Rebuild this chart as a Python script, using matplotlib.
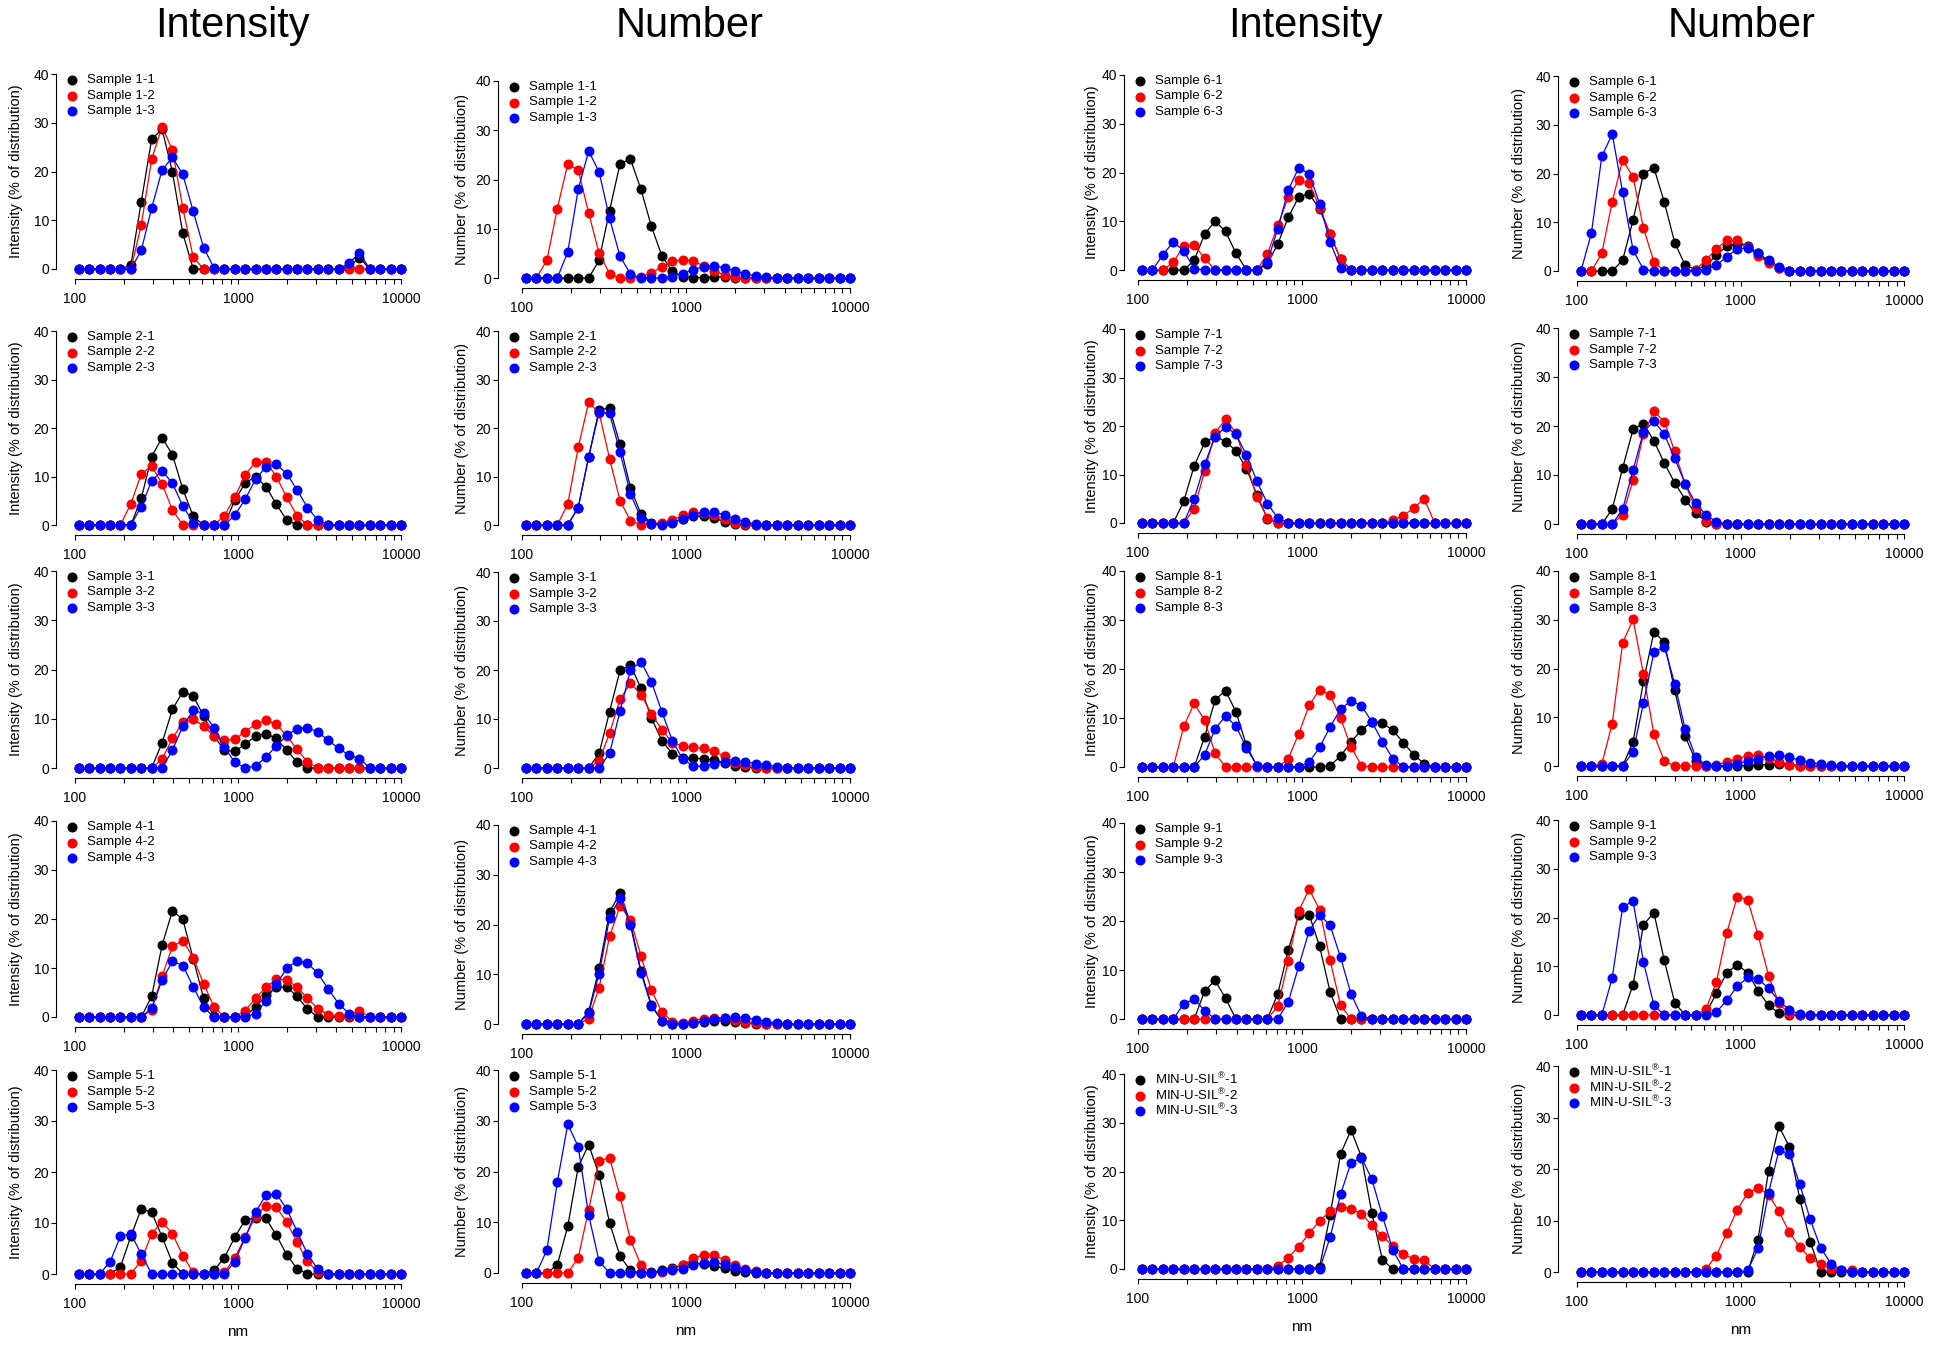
import matplotlib
matplotlib.use("Agg")
import matplotlib.pyplot as plt
from matplotlib.lines import Line2D

plt.rcParams['font.family'] = ['Liberation Sans', 'DejaVu Sans']
plt.rcParams['mathtext.fontset'] = 'custom'
plt.rcParams['mathtext.rm'] = 'Liberation Sans'
plt.rcParams['mathtext.it'] = 'Liberation Sans:italic'

W, H = 1950, 1345

# size classes (nm) of the DLS distribution, 100 - 10000 nm range
size_nm = [105.7, 122.4, 141.8, 164.2, 190.1, 220.2, 255.0, 295.3,
           342.0, 396.1, 458.7, 531.2, 615.1, 712.4, 825.0, 955.4,
           1106, 1281, 1484, 1718, 1990, 2305, 2669, 3091,
           3580, 4145, 4801, 5560, 6439, 7456, 8635, 10000]

# each panel: three replicates (-1 black, -2 red, -3 blue), % of distribution per size class
int_1 = [
    [0, 0, 0, 0, 0, 0.8, 13.8, 26.6, 28.7, 19.9, 7.3, 0, 0, 0, 0, 0, 0, 0, 0, 0, 0, 0, 0, 0, 0, 0, 0.5, 2.3, 0, 0, 0, 0],
    [0, 0, 0, 0, 0, 0, 9.0, 22.5, 29.2, 24.4, 12.5, 2.4, 0, 0, 0, 0, 0, 0, 0, 0, 0, 0, 0, 0, 0, 0, 0, 0, 0, 0, 0, 0],
    [0, 0, 0, 0, 0, 0, 3.8, 12.5, 20.3, 22.9, 19.4, 11.8, 4.4, 0.2, 0, 0, 0, 0, 0, 0, 0, 0, 0, 0, 0, 0, 1.2, 3.3, 0, 0, 0, 0],
]
num_1 = [
    [0, 0, 0, 0, 0, 0, 0, 3.6, 13.7, 23.2, 24.1, 18.0, 10.5, 4.5, 1.4, 0.3, 0.1, 0.1, 0.2, 0.3, 0, 0, 0, 0, 0, 0, 0, 0, 0, 0, 0, 0],
    [0, 0, 3.6, 14.1, 23.2, 21.9, 13.2, 5.0, 0.9, 0, 0, 0.3, 1.0, 2.3, 3.4, 3.7, 3.5, 2.4, 1.5, 0.6, 0.2, 0, 0, 0, 0, 0, 0, 0, 0, 0, 0, 0],
    [0, 0, 0, 0, 5.3, 18.0, 25.8, 21.5, 12.1, 4.4, 0.8, 0, 0, 0, 0.3, 0.9, 1.7, 2.3, 2.5, 2.1, 1.4, 0.8, 0.4, 0.2, 0, 0, 0, 0, 0, 0, 0, 0],
]
int_2 = [
    [0, 0, 0, 0, 0, 0, 5.5, 14.1, 18.0, 14.5, 7.4, 1.8, 0, 0, 0, 5.1, 8.6, 10.0, 7.9, 4.3, 1.0, 0, 0, 0, 0, 0, 0, 0, 0, 0, 0, 0],
    [0, 0, 0, 0, 0, 4.4, 10.5, 12.2, 8.5, 3.1, 0, 0, 0, 0, 1.9, 5.7, 10.3, 13.0, 13.0, 10.0, 5.7, 1.9, 0, 0, 0, 0, 0, 0, 0, 0, 0, 0],
    [0, 0, 0, 0, 0, 0, 3.8, 9.1, 11.2, 8.6, 3.9, 0.5, 0, 0, 0, 2.0, 5.3, 9.4, 12.0, 12.5, 10.6, 7.2, 3.6, 1.0, 0, 0, 0, 0, 0, 0, 0, 0],
]
num_2 = [
    [0, 0, 0, 0, 0, 3.6, 14.1, 23.8, 24.1, 16.6, 7.7, 2.3, 0.4, 0.2, 0.6, 1.2, 1.8, 1.9, 1.4, 0.7, 0.2, 0, 0, 0, 0, 0, 0, 0, 0, 0, 0, 0],
    [0, 0, 0, 0, 4.3, 16.0, 25.3, 23.1, 13.7, 5.0, 0.9, 0, 0.3, 0.5, 1.0, 2.0, 2.7, 2.4, 2.0, 1.2, 0.5, 0.2, 0, 0, 0, 0, 0, 0, 0, 0, 0, 0],
    [0, 0, 0, 0, 0, 3.6, 14.0, 23.3, 23.0, 15.0, 6.4, 1.5, 0.3, 0.1, 0.5, 1.2, 2.1, 2.6, 2.7, 2.1, 1.3, 0.6, 0.2, 0, 0, 0, 0, 0, 0, 0, 0, 0],
]
int_3 = [
    [0, 0, 0, 0, 0, 0, 0, 0, 5.1, 11.9, 15.5, 14.6, 10.6, 6.5, 3.6, 3.4, 4.8, 6.5, 7.0, 6.0, 3.6, 1.2, 0, 0, 0, 0, 0, 0, 0, 0, 0, 0],
    [0, 0, 0, 0, 0, 0, 0, 0, 1.8, 6.0, 9.3, 9.9, 8.5, 6.5, 5.6, 5.8, 7.4, 8.9, 9.7, 8.9, 6.5, 3.8, 1.2, 0, 0, 0, 0, 0, 0, 0, 0, 0],
    [0, 0, 0, 0, 0, 0, 0, 0, 0, 3.6, 8.5, 11.7, 11.1, 8.2, 4.2, 1.2, 0, 0.4, 2.2, 4.5, 6.6, 8.0, 8.2, 7.3, 5.6, 4.0, 2.6, 1.9, 0, 0, 0, 0],
]
num_3 = [
    [0, 0, 0, 0, 0, 0, 0, 3.0, 11.5, 19.9, 21.0, 16.3, 10.2, 5.6, 2.9, 2.0, 2.0, 1.9, 1.6, 1.1, 0.5, 0.2, 0, 0, 0, 0, 0, 0, 0, 0, 0, 0],
    [0, 0, 0, 0, 0, 0, 0, 1.5, 7.1, 14.0, 17.3, 15.0, 11.1, 7.8, 5.2, 4.5, 4.2, 4.0, 3.4, 2.4, 1.1, 0.6, 0.3, 0.1, 0, 0, 0, 0, 0, 0, 0, 0],
    [0, 0, 0, 0, 0, 0, 0, 0, 3.0, 11.6, 20.0, 21.7, 17.6, 11.5, 5.6, 1.8, 0.4, 0.4, 0.9, 1.3, 1.4, 1.2, 0.9, 0.6, 0.3, 0.1, 0, 0, 0, 0, 0, 0],
]
int_4 = [
    [0, 0, 0, 0, 0, 0, 0, 4.2, 14.6, 21.7, 19.9, 11.9, 3.8, 0.2, 0, 0, 0.2, 2.0, 4.4, 6.1, 6.1, 4.2, 1.6, 0, 0, 0, 0, 0, 0, 0, 0, 0],
    [0, 0, 0, 0, 0, 0, 0, 1.5, 8.3, 14.4, 15.6, 12.1, 6.8, 2.1, 0, 0, 1.3, 3.8, 6.1, 7.7, 7.6, 6.1, 3.8, 1.7, 0.5, 0.3, 0.3, 1.2, 0, 0, 0, 0],
    [0, 0, 0, 0, 0, 0, 0, 1.8, 7.5, 11.4, 10.5, 6.2, 2.0, 0, 0, 0, 0, 0.7, 3.3, 6.7, 9.9, 11.5, 11.0, 8.9, 5.7, 2.7, 0.7, 0, 0, 0, 0, 0],
]
num_4 = [
    [0, 0, 0, 0, 0, 0, 2.5, 11.2, 22.5, 26.3, 20.3, 10.7, 3.8, 0.7, 0.1, 0.1, 0.3, 0.5, 0.7, 0.7, 0.5, 0.3, 0.1, 0, 0, 0, 0, 0, 0, 0, 0, 0],
    [0, 0, 0, 0, 0, 0, 1.1, 7.3, 17.6, 23.7, 21.0, 13.7, 6.8, 2.4, 0.5, 0.3, 0.7, 1.1, 1.3, 1.2, 0.9, 0.5, 0.2, 0, 0, 0, 0, 0, 0, 0, 0, 0],
    [0, 0, 0, 0, 0, 0, 2.2, 10.1, 21.4, 25.4, 19.8, 10.3, 3.6, 0.7, 0, 0, 0.2, 0.6, 1.0, 1.3, 1.4, 1.2, 0.9, 0.5, 0.2, 0, 0, 0, 0, 0, 0, 0],
]
int_5 = [
    [0, 0, 0, 0, 1.4, 7.4, 12.8, 12.1, 7.3, 2.2, 0, 0, 0, 0.7, 3.2, 7.2, 10.6, 11.0, 10.9, 7.6, 3.8, 1.0, 0, 0, 0, 0, 0, 0, 0, 0, 0, 0],
    [0, 0, 0, 0, 0, 0, 2.6, 7.9, 10.2, 7.9, 3.6, 0.3, 0, 0, 0.3, 3.2, 7.2, 11.3, 13.4, 13.1, 10.2, 6.2, 2.5, 0.3, 0, 0, 0, 0, 0, 0, 0, 0],
    [0, 0, 0, 2.4, 7.4, 7.9, 3.9, 0, 0, 0, 0, 0, 0, 0, 0, 2.4, 7.1, 12.1, 15.5, 15.7, 12.8, 8.3, 3.9, 0.9, 0, 0, 0, 0, 0, 0, 0, 0],
]
num_5 = [
    [0, 0, 0, 1.6, 9.2, 20.9, 25.3, 19.3, 9.9, 3.3, 0.5, 0, 0.1, 0.5, 1.0, 1.6, 1.9, 1.8, 1.4, 0.9, 0.4, 0.1, 0, 0, 0, 0, 0, 0, 0, 0, 0, 0],
    [0, 0, 0, 0, 0, 3.0, 12.5, 22.1, 22.7, 15.1, 6.5, 1.6, 0, 0.2, 0.8, 1.5, 2.9, 3.6, 3.5, 2.6, 1.5, 0.8, 0.3, 0, 0, 0, 0, 0, 0, 0, 0, 0],
    [0, 0, 4.5, 17.9, 29.3, 24.9, 11.4, 2.3, 0, 0, 0, 0, 0, 0.3, 0.5, 0.8, 1.5, 2.0, 2.1, 1.7, 1.2, 0.6, 0.2, 0, 0, 0, 0, 0, 0, 0, 0, 0],
]
int_6 = [
    [0, 0, 0, 0, 0, 2.0, 7.4, 10.0, 7.9, 3.4, 0, 0, 1.2, 5.4, 10.8, 15.0, 15.6, 12.5, 7.4, 2.2, 0, 0, 0, 0, 0, 0, 0, 0, 0, 0, 0, 0],
    [0, 0, 0, 1.6, 4.9, 5.1, 2.4, 0, 0, 0, 0, 0, 3.3, 9.2, 15.0, 18.4, 17.8, 12.8, 7.3, 2.3, 0, 0, 0, 0, 0, 0, 0, 0, 0, 0, 0, 0],
    [0, 0, 3.1, 5.8, 3.9, 0.3, 0, 0, 0, 0, 0, 0, 1.7, 8.5, 16.4, 21.0, 19.7, 13.6, 5.7, 0.5, 0, 0, 0, 0, 0, 0, 0, 0, 0, 0, 0, 0],
]
num_6 = [
    [0, 0, 0, 0, 2.2, 10.4, 20.0, 21.2, 14.1, 5.8, 1.2, 0.3, 1.0, 3.3, 5.1, 5.6, 5.2, 3.6, 1.8, 0.6, 0, 0, 0, 0, 0, 0, 0, 0, 0, 0, 0, 0],
    [0, 0, 3.6, 14.2, 22.8, 19.3, 8.8, 1.9, 0, 0, 0, 0.3, 2.2, 4.6, 6.3, 6.3, 5.0, 3.1, 1.7, 0.7, 0, 0, 0, 0, 0, 0, 0, 0, 0, 0, 0, 0],
    [0, 7.7, 23.5, 28.1, 16.2, 4.3, 0.3, 0, 0, 0, 0, 0, 0.3, 1.2, 2.9, 4.6, 4.7, 3.6, 2.2, 0.9, 0.1, 0, 0, 0, 0, 0, 0, 0, 0, 0, 0, 0],
]
int_7 = [
    [0, 0, 0, 0, 4.5, 11.8, 16.6, 17.9, 16.8, 14.9, 11.2, 5.8, 0.9, 0, 0, 0, 0, 0, 0, 0, 0, 0, 0, 0, 0, 0, 0, 0, 0, 0, 0, 0],
    [0, 0, 0, 0, 0, 2.9, 10.8, 18.6, 21.4, 18.6, 12.0, 5.3, 1.1, 0, 0, 0, 0, 0, 0, 0, 0, 0, 0, 0, 0.6, 1.5, 3.1, 5.0, 0, 0, 0, 0],
    [0, 0, 0, 0, 0, 5.0, 12.1, 17.8, 19.8, 18.3, 14.0, 8.6, 4.0, 1.0, 0, 0, 0, 0, 0, 0, 0, 0, 0, 0, 0, 0, 0, 0, 0, 0, 0, 0],
]
num_7 = [
    [0, 0, 0, 3.0, 11.4, 19.3, 20.5, 17.0, 12.4, 8.4, 5.0, 2.2, 0.5, 0, 0, 0, 0, 0, 0, 0, 0, 0, 0, 0, 0, 0, 0, 0, 0, 0, 0, 0],
    [0, 0, 0, 0, 1.9, 8.9, 18.3, 23.0, 20.9, 14.8, 8.1, 3.2, 0.6, 0, 0, 0, 0, 0, 0, 0, 0, 0, 0, 0, 0, 0, 0, 0, 0, 0, 0, 0],
    [0, 0, 0, 0, 3.0, 11.0, 18.8, 21.0, 18.3, 13.4, 8.2, 4.2, 1.8, 0.5, 0, 0, 0, 0, 0, 0, 0, 0, 0, 0, 0, 0, 0, 0, 0, 0, 0, 0],
]
int_8 = [
    [0, 0, 0, 0, 0, 0, 6.2, 13.7, 15.6, 11.2, 4.4, 0.2, 0, 0, 0, 0, 0, 0, 0.3, 2.2, 5.1, 7.6, 9.2, 9.0, 7.5, 5.0, 2.5, 0.7, 0, 0, 0, 0],
    [0, 0, 0, 0, 8.3, 13.0, 9.5, 2.8, 0, 0, 0, 0, 0, 0, 1.7, 6.8, 12.6, 15.8, 14.7, 10.0, 4.1, 0.3, 0, 0, 0, 0, 0, 0, 0, 0, 0, 0],
    [0, 0, 0, 0, 0, 0, 2.5, 7.8, 10.4, 8.3, 3.9, 0.3, 0, 0, 0, 0, 1.0, 4.0, 8.2, 11.8, 13.5, 12.5, 9.2, 5.2, 1.7, 0, 0, 0, 0, 0, 0, 0],
]
num_8 = [
    [0, 0, 0, 0, 0, 4.9, 17.4, 27.5, 25.4, 15.5, 6.1, 1.1, 0, 0, 0, 0, 0.1, 0.2, 0.3, 0.4, 0.3, 0.1, 0, 0, 0, 0, 0, 0, 0, 0, 0, 0],
    [0, 0, 0.4, 8.7, 25.2, 30.1, 18.8, 6.5, 1.0, 0, 0, 0, 0, 0.3, 0.8, 1.5, 2.1, 2.2, 1.6, 0.9, 0.3, 0, 0, 0, 0, 0, 0, 0, 0, 0, 0, 0],
    [0, 0, 0, 0, 0, 2.9, 12.9, 23.3, 24.5, 16.9, 7.6, 1.9, 0.2, 0, 0.1, 0.5, 1.0, 1.5, 2.0, 2.2, 1.8, 1.2, 0.7, 0.4, 0.2, 0, 0, 0, 0, 0, 0, 0],
]
int_9 = [
    [0, 0, 0, 0, 0, 0, 5.7, 7.9, 4.2, 0, 0, 0, 0, 5.2, 14.1, 21.3, 21.3, 14.8, 5.5, 0, 0, 0, 0, 0, 0, 0, 0, 0, 0, 0, 0, 0],
    [0, 0, 0, 0, 0, 0, 0, 0, 0, 0, 0, 0, 0, 2.6, 11.8, 22.1, 26.5, 22.3, 12.0, 2.8, 0, 0, 0, 0, 0, 0, 0, 0, 0, 0, 0, 0],
    [0, 0, 0, 0, 3.1, 4.1, 1.7, 0, 0, 0, 0, 0, 0, 0, 3.5, 10.8, 18.0, 21.3, 19.1, 12.6, 5.1, 0.6, 0, 0, 0, 0, 0, 0, 0, 0, 0, 0],
]
num_9 = [
    [0, 0, 0, 0, 0, 6.2, 18.5, 21.0, 11.2, 2.5, 0, 0, 0.3, 4.5, 8.7, 10.3, 8.7, 5.0, 2.0, 0.4, 0, 0, 0, 0, 0, 0, 0, 0, 0, 0, 0, 0],
    [0, 0, 0, 0, 0, 0, 0, 0, 0, 0, 0, 0, 1.2, 6.8, 16.9, 24.3, 23.6, 16.4, 8.1, 2.4, 0.2, 0, 0, 0, 0, 0, 0, 0, 0, 0, 0, 0],
    [0, 0, 0, 7.6, 22.1, 23.4, 10.9, 2.0, 0, 0, 0, 0, 0, 0.6, 3.0, 5.9, 7.7, 7.4, 5.5, 2.9, 1.0, 0.2, 0, 0, 0, 0, 0, 0, 0, 0, 0, 0],
]
int_min = [
    [0, 0, 0, 0, 0, 0, 0, 0, 0, 0, 0, 0, 0, 0, 0, 0, 0, 0.5, 11.0, 23.6, 28.5, 23.0, 11.4, 1.9, 0, 0, 0, 0, 0, 0, 0, 0],
    [0, 0, 0, 0, 0, 0, 0, 0, 0, 0, 0, 0, 0, 0.7, 2.3, 4.6, 7.3, 9.9, 11.8, 12.8, 12.4, 11.3, 9.0, 6.8, 4.7, 3.0, 2.1, 1.8, 0, 0, 0, 0],
    [0, 0, 0, 0, 0, 0, 0, 0, 0, 0, 0, 0, 0, 0, 0, 0, 0, 0, 6.5, 15.3, 21.8, 22.8, 18.4, 10.9, 3.9, 0, 0, 0, 0, 0, 0, 0],
]
num_min = [
    [0, 0, 0, 0, 0, 0, 0, 0, 0, 0, 0, 0, 0, 0, 0, 0, 0, 6.3, 19.7, 28.3, 24.3, 14.2, 5.9, 0, 0, 0, 0, 0, 0, 0, 0, 0],
    [0, 0, 0, 0, 0, 0, 0, 0, 0, 0, 0, 0, 0.6, 3.2, 7.6, 12.1, 15.3, 16.4, 15.0, 11.8, 7.7, 4.8, 2.7, 1.5, 0.6, 0.4, 0.3, 0, 0, 0, 0, 0],
    [0, 0, 0, 0, 0, 0, 0, 0, 0, 0, 0, 0, 0, 0, 0, 0, 0.3, 4.6, 15.4, 23.6, 23.0, 17.0, 10.2, 4.7, 1.6, 0.4, 0, 0, 0, 0, 0, 0],
]

colors = ["black", "red", "blue"]

# panel geometry in pixels: y-axis x, x of 100 nm, x of 10000 nm; per panel y of 40 % and of 0 %
col_x = [(56, 75, 401), (498, 522, 850), (1124, 1138, 1466), (1558, 1577, 1904)]
panels = [
    (int_1, 0, 74, 269, "1"), (num_1, 1, 81, 278, "1"), (int_6, 2, 75, 270, "6"), (num_6, 3, 76, 271, "6"),
    (int_2, 0, 331, 525, "2"), (num_2, 1, 331, 525, "2"), (int_7, 2, 329, 523, "7"), (num_7, 3, 328, 524, "7"),
    (int_3, 0, 571, 768, "3"), (num_3, 1, 572, 768, "3"), (int_8, 2, 571, 767, "8"), (num_8, 3, 571, 766, "8"),
    (int_4, 0, 821, 1017, "4"), (num_4, 1, 825, 1024, "4"), (int_9, 2, 823, 1019, "9"), (num_9, 3, 820, 1015, "9"),
    (int_5, 0, 1070, 1274, "5"), (num_5, 1, 1070, 1273, "5"), (int_min, 2, 1074, 1269, "MIN"), (num_min, 3, 1066, 1272, "MIN"),
]

fig = plt.figure(figsize=(W / 100, H / 100), dpi=100)


def fx(px):
    return px / W


def fy(py):
    return 1 - py / H


for k, (data, col, y40, y0, tag) in enumerate(panels):
    for s in data:
        assert len(s) == len(size_nm)
    ax_x, x100, x1e4 = col_x[col]
    dec = (x1e4 - x100) / 2.0
    ppu = (y0 - y40) / 40.0
    gap_b, gap_t, gap_r = 10, 4, 10
    left, right = ax_x, x1e4 + gap_r
    bot, top = y0 + gap_b, y40 - gap_t
    ax = fig.add_axes([fx(left), fy(bot), (right - left) / W, (bot - top) / H])
    ax.set_xscale('log')
    ax.set_xlim(10 ** (2 - (x100 - ax_x) / dec), 10 ** (4 + gap_r / dec))
    ax.set_ylim(-gap_b / ppu, 40 + gap_t / ppu)

    for j in range(3):
        ax.plot(size_nm, data[j], '-o', color=colors[j], lw=0.9, ms=6.2, clip_on=False, zorder=3 + j)

    for side in ['top', 'right']:
        ax.spines[side].set_visible(False)
    ax.spines['left'].set_bounds(0, 40)
    ax.spines['bottom'].set_bounds(100, 10000)
    ax.set_yticks([0, 10, 20, 30, 40])
    ax.set_xticks([100, 1000, 10000])
    ax.set_xticklabels(['100', '1000', '10000'])
    ax.set_xticks([200, 300, 400, 500, 600, 700, 800, 900,
                   2000, 3000, 4000, 5000, 6000, 7000, 8000, 9000], minor=True)
    ax.xaxis.set_minor_formatter(plt.NullFormatter())
    ax.tick_params(axis='both', which='both', direction='out', length=3.6, width=0.8, labelsize=10)
    ax.tick_params(axis='x', which='major', pad=5.5)
    ax.tick_params(axis='y', pad=1.5)
    for sp in ax.spines.values():
        sp.set_linewidth(0.8)

    kind = "Intensity" if col in (0, 2) else "Number"
    ylab_x = {0: 16, 1: 462, 2: 1092, 3: 1519}[col]
    fig.text(fx(ylab_x), fy((y40 + y0) / 2), kind + " (% of distribution)", rotation=90,
             ha='center', va='center', fontsize=10.5)

    # legend: coloured dot + replicate name, top left of each panel
    for j in range(3):
        ly = y40 + 6 + 15.5 * j
        fig.add_artist(Line2D([fx(ax_x + 16)], [fy(ly)], marker='o', ms=6.2, color=colors[j],
                              linestyle='None', transform=fig.transFigure))
        if tag == "MIN":
            lab = "MIN-U-SIL$^{®}$-%d" % (j + 1)
        else:
            lab = "Sample %s-%d" % (tag, j + 1)
        fig.text(fx(ax_x + 31), fy(ly), lab, ha='left', va='center', fontsize=9.5)

    if k >= 16:
        fig.text(fx(x100 + dec), fy(y0 + 58), "nm", ha='center', va='center', fontsize=11)

for cx, txt in [(232, "Intensity"), (690, "Number"), (1305, "Intensity"), (1742, "Number")]:
    fig.text(fx(cx), fy(26), txt, ha='center', va='center', fontsize=30)

fig.savefig("out.png", dpi=100)
